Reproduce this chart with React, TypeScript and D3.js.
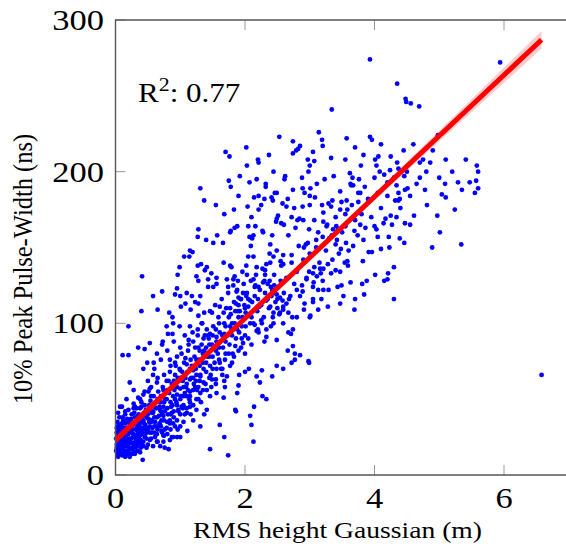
import React from 'react';
import * as d3 from 'd3';

// RMS height (m) vs 10% peak pulse-width (ns)
const upperCloud: [number, number][] = [
  [3.34, 241], [4.49, 246], [2.53, 223], [3.14, 226], [3.19, 221], [2.74, 220], [3.2, 217], [3.57, 222],
  [3.93, 223], [3.96, 221], [4.1, 218], [3.7, 216], [3.83, 211], [4.01, 208], [4.06, 210], [4.03, 204],
  [4.08, 200], [3.79, 204], [3.33, 209], [3.55, 208], [3.07, 207], [2.97, 208], [3.0, 204], [2.98, 200],
  [3.05, 213], [2.85, 217], [2.82, 215], [2.79, 214], [2.74, 212], [2.37, 211], [2.2, 208], [2.21, 206],
  [2.02, 216], [2.03, 204], [1.76, 210], [1.7, 213], [1.92, 197], [2.07, 193], [2.18, 195], [2.32, 192],
  [2.44, 200], [2.62, 197], [2.61, 195], [2.49, 186], [2.74, 188], [2.88, 196], [2.89, 189], [3.01, 189],
  [3.11, 192], [3.23, 195], [3.37, 197], [3.63, 192], [3.64, 191], [3.62, 199], [3.66, 196], [3.76, 195],
  [3.67, 191], [3.75, 186], [3.78, 186], [3.47, 187], [3.35, 181], [3.29, 179], [3.49, 180], [3.57, 181],
  [3.58, 175], [3.47, 175], [3.33, 177], [3.19, 178], [3.21, 173], [3.08, 183], [3.0, 184], [2.92, 186],
  [3.0, 178], [2.89, 177], [2.84, 169], [2.76, 176], [2.72, 170], [2.64, 177], [2.66, 182], [2.58, 179],
  [2.46, 186], [2.41, 183], [2.43, 181], [2.32, 190], [2.3, 182], [2.21, 184], [2.14, 183], [2.25, 178],
  [2.21, 175], [2.1, 170], [2.04, 177], [1.9, 184], [1.83, 175], [1.68, 172], [1.78, 190], [1.75, 194],
  [1.55, 178], [1.37, 181], [1.31, 189],
];

const midCloud: [number, number][] = [
  [1.88, 164], [1.77, 160], [1.84, 163], [1.78, 161], [2.05, 164], [2.07, 157], [2.13, 158], [2.11, 156],
  [2.16, 164], [2.27, 161], [2.28, 160], [2.42, 158], [2.48, 167], [2.6, 165], [2.51, 171], [2.49, 169],
  [2.56, 166], [2.67, 158], [2.78, 163], [2.81, 168], [2.9, 168], [2.99, 162], [3.07, 168], [3.21, 167],
  [3.27, 165], [3.26, 164], [3.36, 162], [3.41, 164], [3.44, 162], [3.55, 164], [3.69, 161], [3.74, 158],
  [3.78, 165], [3.83, 155], [3.86, 163], [4.0, 164], [4.03, 162], [4.05, 157], [4.14, 166], [4.17, 169],
  [4.27, 165], [4.25, 171], [4.34, 170], [4.32, 181], [4.37, 181], [4.39, 182], [4.37, 186], [4.47, 188],
  [4.51, 189], [4.46, 197], [4.37, 202], [4.24, 201], [4.2, 193], [4.34, 191], [4.47, 166], [4.46, 153],
  [4.39, 156], [4.22, 157], [4.23, 150], [4.1, 149], [3.96, 147], [3.91, 147], [3.82, 141], [3.67, 151],
  [3.56, 153], [3.48, 149], [3.42, 155], [3.4, 152], [3.34, 158], [3.2, 157], [3.13, 160], [3.1, 155],
  [2.97, 153], [2.94, 152], [2.91, 150], [2.83, 151], [2.72, 145], [2.59, 145], [2.59, 139], [2.55, 141],
  [2.49, 148], [2.44, 144], [2.39, 152], [2.38, 146], [2.33, 139], [2.31, 135], [2.18, 137], [2.13, 144],
  [2.09, 151], [2.05, 144], [2.02, 138], [2.03, 132], [1.96, 134], [1.84, 131], [1.89, 128], [1.77, 138],
  [1.79, 137], [1.82, 129], [1.72, 129], [1.67, 140], [1.66, 153], [1.57, 158], [1.51, 153], [1.4, 155],
  [1.28, 162], [1.27, 157], [1.15, 148], [1.19, 147], [1.14, 144], [1.06, 144], [0.99, 137], [0.96, 132],
  [0.95, 123], [0.92, 119], [1.0, 118], [1.1, 120], [1.18, 118], [1.23, 114], [1.28, 113], [1.31, 118],
  [1.28, 128], [1.25, 131], [1.27, 138], [1.32, 139], [1.38, 135], [1.41, 137], [1.43, 129], [1.43, 124],
  [1.51, 124], [1.56, 126], [1.56, 130], [1.48, 133], [1.74, 124], [1.82, 125], [1.87, 121], [1.9, 117],
  [1.94, 116], [1.97, 120], [2.02, 118], [2.05, 111], [2.08, 115], [2.13, 129], [2.16, 125], [2.21, 124],
  [2.28, 127], [2.31, 132], [2.38, 128], [2.45, 125], [2.42, 122], [2.49, 119], [2.5, 116], [2.54, 117],
  [2.58, 115], [2.59, 111], [2.64, 113], [2.67, 107], [2.73, 104], [2.7, 118], [2.8, 122], [2.88, 125],
  [2.89, 121], [2.95, 129], [3.06, 127], [3.11, 131], [3.17, 133], [3.05, 133], [2.99, 134], [3.07, 137],
  [3.16, 136], [3.21, 136], [3.28, 139], [3.33, 133], [3.4, 135], [3.47, 134], [3.54, 140], [3.58, 141],
  [3.59, 138], [3.43, 124], [3.49, 125], [3.29, 122], [3.21, 122], [3.13, 122], [3.18, 116], [3.05, 116],
  [3.05, 114], [2.92, 113], [2.91, 109], [3.01, 105], [3.13, 109], [3.28, 111], [3.47, 113], [3.69, 109],
  [3.7, 116], [3.84, 119], [3.52, 118], [3.63, 127], [3.81, 126], [3.88, 128], [4.01, 132], [4.2, 129],
  [4.21, 133], [4.3, 137], [4.3, 116], [4.15, 128], [0.58, 118], [0.41, 131], [0.4, 108], [0.65, 109],
  [0.72, 121], [0.83, 107], [0.88, 104], [1.01, 111], [1.08, 113], [1.16, 109], [1.28, 105], [1.37, 107],
  [1.49, 107], [1.61, 111], [1.67, 107], [1.77, 110], [1.86, 113], [1.92, 108], [2.01, 107], [2.22, 111],
  [2.33, 115], [2.39, 111], [2.44, 107], [2.54, 107], [2.59, 109], [2.8, 104], [3.0, 104],
];

const lowerCloud: [number, number][] = [
  [0.2, 98], [0.11, 79], [0.2, 79], [0.35, 84], [0.45, 83], [0.53, 87], [0.49, 74], [0.43, 70],
  [0.59, 74], [0.64, 80], [0.73, 88], [0.72, 86], [0.79, 98], [0.89, 100], [0.81, 93], [0.88, 93],
  [0.99, 98], [1.07, 92], [1.13, 89], [1.15, 98], [1.27, 96], [1.33, 100], [1.46, 93], [1.43, 92],
  [1.56, 91], [1.68, 93], [1.77, 98], [1.88, 96], [2.08, 100], [2.15, 99], [2.26, 100], [2.44, 100],
  [2.59, 100], [2.67, 94], [2.71, 93], [2.74, 96], [2.99, 74], [2.85, 79], [2.77, 80], [2.66, 82],
  [2.59, 70], [2.49, 72], [2.42, 65], [2.26, 69], [2.23, 61], [2.18, 65], [2.06, 70], [2.0, 68],
  [1.91, 66], [1.9, 59], [1.88, 54], [1.85, 43], [1.72, 65], [1.69, 58], [1.67, 51], [1.55, 63],
  [1.49, 63], [1.41, 56], [1.41, 43], [1.28, 50], [1.15, 45], [1.1, 41], [1.02, 45], [0.97, 43],
  [0.87, 41], [0.84, 34], [0.74, 39], [0.69, 33], [0.69, 43], [0.58, 41], [0.51, 43], [0.51, 55],
  [0.43, 53], [0.4, 45], [0.28, 44], [0.17, 50], [0.07, 45], [0.15, 40], [0.04, 41], [0.1, 34],
  [0.03, 32], [0.22, 36], [0.33, 34], [0.43, 36], [0.56, 36], [0.64, 32], [0.71, 29], [0.79, 31],
  [0.92, 32], [1.0, 32], [0.95, 25], [0.87, 25], [0.74, 26], [0.61, 25], [0.48, 28], [0.38, 26],
  [0.25, 28], [0.15, 29], [0.07, 29], [0.02, 28], [0.03, 23], [0.07, 19], [0.11, 15], [0.17, 14],
  [0.22, 17], [0.28, 19], [0.35, 21], [0.43, 22], [0.53, 23], [0.64, 22], [0.74, 22], [0.84, 23],
  [0.89, 25], [1.0, 25], [1.11, 29], [0.76, 18], [0.82, 17], [1.46, 17], [1.74, 13], [0.42, 10],
  [1.61, 33], [1.68, 25], [1.86, 42], [2.08, 39], [2.1, 33], [2.13, 22], [2.14, 45], [2.27, 52],
  [2.33, 50], [2.72, 74], [2.77, 76], [2.98, 75], [2.74, 85], [2.49, 89], [2.33, 91], [2.18, 95],
  [1.97, 87], [1.83, 78], [1.77, 72], [1.61, 74], [1.46, 72], [1.31, 65], [1.2, 69], [1.1, 73],
  [1.0, 69], [0.92, 74], [0.84, 76], [1.23, 58], [1.31, 54], [1.15, 63], [0.95, 58], [0.89, 52],
  [0.79, 50], [0.74, 56], [0.64, 61], [0.58, 66], [0.53, 57], [0.38, 50], [0.28, 56], [0.22, 61],
  [1.0, 50], [1.07, 54], [1.15, 52], [1.36, 61], [1.46, 52], [1.56, 54], [1.25, 43], [1.37, 40],
  [1.05, 35], [1.2, 36], [1.31, 32], [0.53, 32], [0.33, 30], [0.12, 23], [0.2, 21], [0.04, 15],
  [0.1, 13], [0.15, 12], [0.22, 12], [0.3, 14], [0.38, 15], [0.48, 18], [0.58, 19], [0.69, 19],
  [0.04, 12], [0.02, 18],
];

const coreCluster: [number, number][] = [
  [0.02, 20], [0.04, 25], [0.06, 22], [0.08, 30], [0.1, 26], [0.12, 19], [0.14, 24], [0.16, 31],
  [0.18, 22], [0.2, 27], [0.22, 33], [0.24, 24], [0.26, 30], [0.28, 21], [0.3, 38], [0.32, 26],
  [0.34, 32], [0.36, 40], [0.38, 30], [0.4, 35], [0.42, 29], [0.44, 41], [0.46, 33], [0.48, 38],
  [0.5, 30], [0.52, 46], [0.55, 35], [0.58, 42], [0.6, 38], [0.62, 48], [0.65, 30], [0.68, 45],
  [0.7, 52], [0.72, 40], [0.75, 36], [0.78, 55], [0.8, 44], [0.82, 62], [0.85, 48], [0.88, 58],
  [0.9, 38], [0.92, 66], [0.95, 53], [0.98, 62], [1.0, 57], [1.03, 68], [1.05, 46], [1.08, 77],
  [1.1, 60], [1.12, 82], [1.15, 55], [1.18, 72], [1.2, 88], [1.22, 78], [1.25, 66], [1.28, 84],
  [1.3, 72], [1.35, 80], [1.38, 92], [1.4, 68], [1.45, 86], [1.5, 78], [1.55, 96], [1.6, 84],
  [1.65, 70], [1.7, 88], [1.75, 80], [1.8, 92], [1.85, 85], [1.9, 104], [1.95, 90], [2.0, 80],
  [0.01, 16], [0.03, 13], [0.05, 18], [0.07, 14], [0.09, 21], [0.11, 17], [0.13, 13], [0.15, 20],
  [0.17, 16], [0.19, 19], [0.21, 14], [0.23, 22], [0.25, 17], [0.27, 25], [0.29, 15], [0.31, 23],
  [0.33, 19], [0.35, 28], [0.37, 22], [0.39, 18], [0.03, 35], [0.06, 38], [0.09, 33], [0.12, 36],
  [0.15, 42], [0.05, 30], [0.1, 45], [0.18, 37], [0.2, 43], [0.25, 40], [0.28, 47], [0.32, 44],
  [0.35, 51], [0.4, 48], [0.45, 55], [0.5, 62], [0.55, 58], [0.6, 70], [0.65, 64], [0.7, 76],
  [0.75, 66], [0.8, 82], [0.85, 72], [0.9, 88], [0.95, 78], [1.0, 84], [0.45, 25], [0.5, 20],
  [0.55, 24], [0.6, 28], [0.65, 22], [0.7, 32], [0.75, 26], [0.8, 35], [0.85, 30], [0.9, 42],
  [0.95, 36], [1.0, 40], [1.05, 52], [1.1, 44], [1.15, 48], [1.2, 56], [1.25, 50], [1.3, 62],
  [1.35, 56], [1.4, 74], [1.45, 64], [1.5, 70], [1.55, 60], [1.6, 76], [1.65, 66], [1.7, 80],
  [1.8, 74], [1.9, 82], [2.0, 92], [2.1, 86], [2.2, 96], [2.3, 88], [2.4, 98],
];

// the thick band of points along the trend
const trendBand: [number, number][] = [
  [0.01, 24], [0.02, 31], [0.04, 19], [0.05, 27], [0.06, 15], [0.07, 33], [0.08, 23], [0.09, 17],
  [0.1, 29], [0.11, 38], [0.12, 27], [0.13, 21], [0.14, 16], [0.15, 34], [0.16, 26], [0.17, 19],
  [0.18, 29], [0.19, 13], [0.2, 35], [0.21, 24], [0.22, 18], [0.23, 29], [0.24, 37], [0.25, 21],
  [0.26, 14], [0.27, 33], [0.28, 27], [0.29, 41], [0.3, 18], [0.31, 30], [0.32, 35], [0.33, 24],
  [0.34, 16], [0.35, 39], [0.36, 27], [0.37, 33], [0.38, 44], [0.39, 23], [0.41, 31], [0.42, 39],
  [0.43, 19], [0.44, 34], [0.46, 27], [0.47, 43], [0.49, 31], [0.51, 37], [0.53, 28], [0.54, 49],
  [0.56, 41], [0.57, 31], [0.59, 52], [0.61, 35], [0.63, 44], [0.64, 27], [0.66, 55], [0.67, 39],
  [0.69, 48], [0.71, 36], [0.73, 58], [0.74, 45], [0.76, 30], [0.77, 50], [0.79, 62], [0.81, 40],
  [0.83, 54], [0.84, 68], [0.86, 45], [0.87, 60], [0.89, 34], [0.91, 56], [0.93, 72], [0.94, 48],
  [0.96, 64], [0.97, 42], [0.99, 70], [1.01, 52], [1.02, 80], [1.04, 62], [1.06, 74], [1.07, 40],
  [1.09, 58], [1.11, 68], [1.13, 86], [1.14, 50], [1.16, 76], [1.17, 64], [1.19, 94], [1.21, 60],
  [1.23, 84], [1.24, 70], [1.26, 56], [1.27, 92], [1.29, 76], [1.31, 66], [1.33, 86], [1.34, 100],
  [1.36, 70], [1.37, 82], [1.39, 60], [1.41, 96], [1.42, 78], [1.44, 90], [1.46, 108], [1.47, 66],
  [1.49, 86], [1.51, 98], [1.53, 74], [1.54, 112], [1.56, 88], [1.58, 80], [1.59, 104], [1.61, 94],
  [1.63, 70], [1.64, 116], [1.66, 84], [1.68, 100], [1.69, 76], [1.71, 110], [1.73, 92], [1.74, 120],
  [1.76, 86], [1.78, 106], [1.79, 96], [1.81, 80], [1.83, 114], [1.84, 100], [1.86, 90], [1.88, 122],
  [1.89, 108], [1.91, 94], [1.93, 116], [1.94, 84], [1.96, 104], [1.98, 126], [1.99, 112], [2.01, 98],
  [2.03, 120], [2.05, 90], [2.07, 106], [2.09, 128], [2.11, 114], [2.13, 100], [2.15, 118], [2.17, 132],
  [2.19, 108], [2.21, 94], [2.23, 122], [2.25, 112], [2.27, 136], [2.29, 104], [2.31, 120], [2.33, 96],
  [2.35, 126], [2.37, 110], [2.39, 140], [2.41, 118], [2.43, 104], [2.45, 132], [2.47, 114], [2.5, 124],
  [2.53, 106], [2.56, 138], [2.6, 120], [2.64, 130], [2.68, 116], [2.72, 140], [2.76, 126], [2.8, 134],
  [2.85, 118], [2.9, 142], [2.95, 130], [3.0, 146], [3.05, 124], [3.1, 150], [3.15, 140], [3.2, 128],
  [3.25, 148], [3.3, 156], [3.35, 142], [3.4, 170], [3.45, 146], [3.5, 160], [3.55, 172], [3.6, 148],
  [3.65, 178], [3.7, 168], [3.75, 180], [3.8, 172], [3.85, 190], [3.9, 182], [3.95, 170], [4.0, 196],
  [4.05, 186], [4.1, 176], [4.15, 198], [4.2, 184], [4.25, 210], [4.3, 196], [4.35, 206], [4.4, 176],
  [4.45, 214], [4.5, 200], [4.55, 184], [4.6, 218], [4.65, 192], [4.7, 206], [4.8, 200], [4.9, 214],
  [5.0, 196], [5.1, 208],
];

// extra points where the lower-left of the cloud is solid
const denseFill: [number, number][] = [
  [0.3, 45], [0.35, 34], [0.4, 27], [0.45, 46], [0.5, 40], [0.55, 52], [0.6, 45], [0.65, 50],
  [0.7, 42], [0.75, 48], [0.8, 56], [0.85, 40], [0.9, 62], [0.95, 46], [1.0, 64], [1.05, 58],
  [1.1, 52], [1.15, 70], [1.2, 64], [1.25, 76], [1.3, 82], [1.35, 74], [1.4, 84], [1.45, 78],
  [1.5, 92], [1.55, 82], [1.6, 100], [1.65, 92], [1.7, 98], [1.75, 104], [1.8, 100], [1.85, 108],
  [1.9, 112], [1.95, 98], [2.0, 110], [2.05, 116], [2.1, 104], [2.15, 124], [2.2, 116], [2.25, 102],
  [2.3, 128], [2.35, 116], [2.4, 124], [2.45, 120], [2.5, 110], [2.55, 128], [0.08, 26], [0.12, 31],
  [0.16, 22], [0.2, 16], [0.24, 30], [0.28, 34], [0.32, 20], [0.36, 24], [0.4, 20], [0.44, 30],
  [0.48, 24], [0.52, 35], [0.56, 28], [0.6, 32], [0.64, 38], [0.68, 34], [0.72, 28], [0.76, 42],
  [0.8, 27], [0.84, 36], [0.88, 46], [0.92, 50], [0.96, 30], [1.04, 44], [1.08, 64], [1.12, 56],
  [1.16, 40], [1.2, 46], [1.24, 62], [1.28, 58], [1.32, 48], [1.36, 90], [1.4, 80], [1.48, 58],
  [1.52, 84], [1.56, 70], [1.62, 88], [1.68, 62],
];

const rightCloud: [number, number][] = [
  [4.86, 206], [4.98, 224], [4.7, 196], [5.09, 192], [4.97, 171], [4.89, 150], [5.04, 185], [4.81, 178],
  [4.61, 171], [4.55, 165], [4.78, 188], [5.1, 183], [5.01, 160], [4.75, 208], [5.2, 200], [5.29, 193],
  [5.35, 188], [5.47, 193], [5.34, 152], [5.58, 204], [5.6, 200], [5.57, 194], [5.6, 189], [5.55, 186],
  [5.41, 208], [5.24, 175],
];

const outliers: [number, number][] = [
  [6.58, 66], [5.94, 272], [4.48, 248], [4.56, 245], [4.69, 243], [3.93, 274], [4.35, 258],
];

const allPoints = [
  ...coreCluster, ...trendBand, ...denseFill, ...lowerCloud, ...midCloud, ...upperCloud, ...rightCloud, ...outliers,
];

// fitted line and its confidence band
const fitX = [0, 6.58];
const fitY = [23, 287];
const bandX = [0, 1, 2, 3, 4, 5, 6, 6.58];
const bandLow = [19.5, 60.8, 101.5, 141.6, 181, 220, 258.6, 281];
const bandHigh = [26.5, 65.4, 104.9, 145, 185.8, 227, 268.6, 292.8];

const xTicks = [0, 2, 4, 6];
const yTicks = [0, 100, 200, 300];

const W = 566;
const H = 554;
const font = '"Liberation Serif", "Times New Roman", serif';
const stretch = 1.15;

export default function App() {
  const x = d3.scaleLinear().domain([0, 7]).range([115.5, 568.75]);
  const y = d3.scaleLinear().domain([0, 300]).range([475, 20]);

  const band = d3.area<number>()
    .x((d) => x(bandX[d]))
    .y0((d) => y(bandLow[d]))
    .y1((d) => y(bandHigh[d]));
  const fit = d3.line<number>()
    .x((d) => x(fitX[d]))
    .y((d) => y(fitY[d]));

  const left = x(0);
  const bottom = y(0);
  const top = y(300);

  return (
    <svg width={W} height={H} style={{ position: 'absolute', left: 0, top: 0, background: '#fff' }} fontFamily={font}>
      <g>
        {allPoints.map((p, i) => (
          <circle key={i} cx={x(p[0])} cy={y(p[1])} r={2.4} fill="#0000ff" />
        ))}
      </g>
      <path d={band(d3.range(bandX.length)) || ''} fill="#ff0000" fillOpacity={0.2} />
      <path d={fit(d3.range(fitX.length)) || ''} fill="none" stroke="#ff0000" strokeWidth={5} />

      {/* ticks, inside the frame */}
      {xTicks.map((t) => (
        <g key={'xt' + t}>
          <line x1={x(t)} x2={x(t)} y1={bottom} y2={bottom - 10} stroke="#999" strokeWidth={1} />
          <line x1={x(t)} x2={x(t)} y1={top} y2={top + 10} stroke="#999" strokeWidth={1} />
          <text transform={`translate(${x(t)},508) scale(${stretch},1)`} textAnchor="middle" fontSize={30} fill="#000">
            {t}
          </text>
        </g>
      ))}
      {yTicks.map((t) => (
        <g key={'yt' + t}>
          <line x1={left} x2={left + 10} y1={y(t)} y2={y(t)} stroke="#999" strokeWidth={1} />
          <text transform={`translate(104,${y(t) + 10}) scale(${stretch},1)`} textAnchor="end" fontSize={30} fill="#000">
            {t}
          </text>
        </g>
      ))}

      <path d={`M${W + 5},${top}H${left}V${bottom}H${W + 5}`} fill="none" stroke="#555" strokeWidth={1.4} />

      <text transform={`translate(337.5,538) scale(${stretch},1)`} textAnchor="middle" fontSize={24} fill="#000">
        RMS height Gaussian (m)
      </text>
      <text transform={`translate(32,269) scale(${stretch},1) rotate(-90)`} textAnchor="middle" fontSize={24.5} fill="#000">
        10% Peak Pulse-Width (ns)
      </text>
      <text transform={`translate(138,102) scale(${stretch},1)`} fontSize={27} fill="#000">
        R<tspan fontSize={19} dy={-11}>2</tspan>
        <tspan dy={11}>: 0.77</tspan>
      </text>
    </svg>
  );
}
